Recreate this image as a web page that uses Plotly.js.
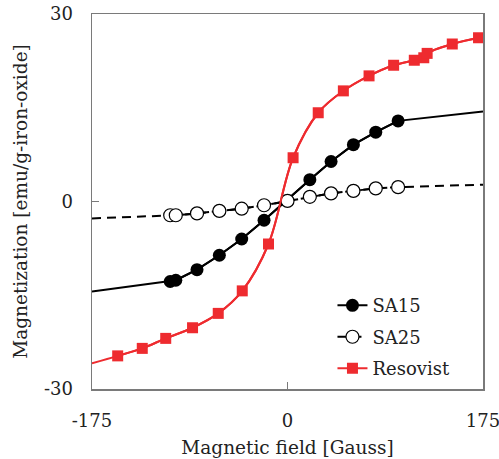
<!DOCTYPE html>
<html>
<head>
<meta charset="utf-8">
<script src="https://cdn.plot.ly/plotly-3.0.1.min.js"></script>
<style>html,body{margin:0;padding:0;background:#fff;}#chart{width:499px;height:459px;}</style>
</head>
<body>
<div id="chart"></div>
<script>
// Data
var sa15X = [-105, -100, -81, -61, -41, -21, 20, 39, 59, 79, 99];
var sa15Y = [-12.8, -12.6, -10.9, -8.6, -6.0, -3.0, 3.5, 6.4, 9.1, 11.1, 12.9];
var sa15LineX = [-175, -105, -100, -81, -61, -41, -21, 20, 39, 59, 79, 99, 175];
var sa15LineY = [-14.4, -12.8, -12.6, -10.9, -8.6, -6.0, -3.0, 3.5, 6.4, 9.1, 11.1, 12.9, 14.4];

var sa25X = [-105, -100, -81, -61, -41, -21, 0, 20, 39, 59, 79, 99];
var sa25Y = [-2.2, -2.2, -1.9, -1.5, -1.15, -0.6, 0.1, 0.75, 1.3, 1.7, 2.1, 2.3];
var sa25LineX = [-175, -105, -100, -81, -61, -41, -21, 0, 20, 39, 59, 79, 99, 175];
var sa25LineY = [-2.7, -2.2, -2.2, -1.9, -1.5, -1.15, -0.6, 0.1, 0.75, 1.3, 1.7, 2.1, 2.3, 2.7];

var resX = [-152, -130, -109, -85, -62, -40.5, -17, 5, 27.5, 50, 73, 95, 113.5, 122, 125, 147.5, 171];
var resY = [-24.7, -23.5, -21.9, -20.2, -17.9, -14.3, -6.8, 7.0, 14.2, 17.7, 20.1, 21.8, 22.6, 23.0, 23.7, 25.2, 26.2];
var resLineX = [-175, -152, -130, -109, -85, -62, -40.5, -17, 5, 27.5, 50, 73, 95, 113.5, 122, 125, 147.5, 171, 175];
var resLineY = [-25.9, -24.7, -23.5, -21.9, -20.2, -17.9, -14.3, -6.8, 7.0, 14.2, 17.7, 20.1, 21.8, 22.6, 23.0, 23.7, 25.2, 26.2, 26.4];

var xTicks = [-175, 0, 175];
var yTicks = [-30, 0, 30];

var RED = '#ee2b2f';
var FONT = 'DejaVu Serif, Liberation Serif, serif';

var traces = [
  {x: sa15LineX, y: sa15LineY, mode: 'lines', line: {color: '#000', width: 2}, showlegend: false, hoverinfo: 'skip'},
  {x: sa25LineX, y: sa25LineY, mode: 'lines', line: {color: '#000', width: 2, dash: '9px,6px'}, showlegend: false, hoverinfo: 'skip'},
  {x: resLineX, y: resLineY, mode: 'lines', line: {color: RED, width: 2, shape: 'spline'}, showlegend: false, hoverinfo: 'skip'},
  {x: sa15X, y: sa15Y, name: 'SA15', mode: 'lines+markers', legendgroup: 'a',
   line: {color: '#000', width: 2}, marker: {symbol: 'circle', size: 13, color: '#000'}},
  {x: sa25X, y: sa25Y, name: 'SA25', mode: 'lines+markers', legendgroup: 'b',
   line: {color: '#000', width: 2, dash: '9px,6px'}, marker: {symbol: 'circle', size: 13, color: '#fff', line: {color: '#000', width: 1.2}}},
  {x: resX, y: resY, name: 'Resovist', mode: 'lines+markers', legendgroup: 'c',
   line: {color: RED, width: 2, shape: 'spline'}, marker: {symbol: 'square', size: 11, color: RED}}
];

var axisCommon = {
  showgrid: false, zeroline: false, showline: true, mirror: true,
  linecolor: '#7a7a7a', linewidth: 1.5,
  ticks: 'inside', ticklen: 7, tickwidth: 1.5, tickcolor: '#7a7a7a',
  tickfont: {family: FONT, size: 18, color: '#222'},
  tickmode: 'array',
  ticklabeloverflow: 'allow'
};

var layout = {
  width: 499, height: 459,
  margin: {l: 92, r: 16, t: 14, b: 70},
  paper_bgcolor: '#fff', plot_bgcolor: '#fff',
  font: {family: FONT, color: '#222'},
  xaxis: Object.assign({}, axisCommon, {
    range: [-175, 175], tickvals: xTicks, ticktext: xTicks.map(String),
    ticklabelstandoff: 15,
    title: {text: 'Magnetic field [Gauss]', font: {family: FONT, size: 18.5, color: '#222'}, standoff: 11}
  }),
  yaxis: Object.assign({}, axisCommon, {
    range: [-30, 30], tickvals: yTicks, ticktext: yTicks.map(String),
    ticklabelstandoff: 14,
    title: {text: 'Magnetization [emu/g-iron-oxide]', font: {family: FONT, size: 18.5, color: '#222'}, standoff: 11}
  }),
  legend: {
    x: 0.615, y: 0.005, xanchor: 'left', yanchor: 'bottom',
    bgcolor: 'rgba(0,0,0,0)', borderwidth: 0,
    font: {family: FONT, size: 18, color: '#222'},
    tracegroupgap: 5
  },
  showlegend: true
};

Plotly.newPlot('chart', traces, layout, {displayModeBar: false, staticPlot: true});
</script>
</body>
</html>
